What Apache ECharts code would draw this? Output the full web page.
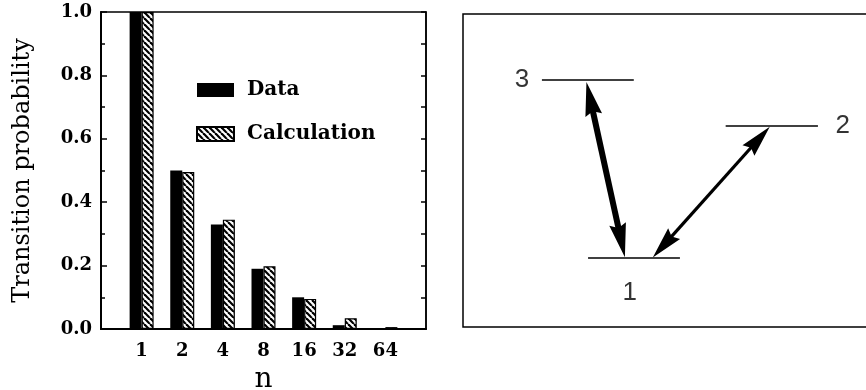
<!DOCTYPE html>
<html>
<head>
<meta charset="utf-8">
<script src="https://cdn.jsdelivr.net/npm/echarts@6/dist/echarts.min.js"></script>
<style>
  html, body { margin: 0; padding: 0; background: #fff; }
  #chart { width: 866px; height: 390px; }
</style>
</head>
<body>
<div id="chart"></div>
<script>
// ---- Data ----
const categories = ['1', '2', '4', '8', '16', '32', '64'];
const dataValues = [1.0, 0.50, 0.33, 0.19, 0.10, 0.012, 0.0];
const calcValues = [1.0, 0.495, 0.345, 0.198, 0.095, 0.034, 0.006];
const yTicks = [0.0, 0.2, 0.4, 0.6, 0.8, 1.0];

// Energy-level diagram (diagram units, x 0..106, y 0..100)
const levelNames = ['3', '2', '1'];
const levelSegments = [
  [[19.5, 78.9], [42.2, 78.9]],
  [[64.9, 64.2], [87.7, 64.2]],
  [[30.9, 22.0], [53.6, 22.0]]
];
const levelLabelPos = [[14.6, 78.9], [93.8, 64.2], [41.2, 11.0]];
const arrowCoords = [
  [30.5, 78.3, 40.0, 22.3],
  [46.9, 22.2, 75.8, 64.0]
];

// ---- Styles ----
const arrowStyles = [
  { width: 6, headLen: 34, headW: 17 },
  { width: 3.2, headLen: 32, headW: 16 }
];

function makeHatch() {
  const s = 6;
  const c = document.createElement('canvas');
  c.width = s; c.height = s;
  const g = c.getContext('2d');
  g.fillStyle = '#fff';
  g.fillRect(0, 0, s, s);
  g.strokeStyle = '#000';
  g.lineWidth = 2.2;
  for (let k = -1; k <= 1; k++) {
    g.beginPath();
    g.moveTo(k * s, 0);
    g.lineTo(k * s + s, s);
    g.stroke();
  }
  return c;
}
const hatch = { image: makeHatch(), repeat: 'repeat' };

const serif = 'DejaVu Serif';
const serifBold = { fontFamily: serif, fontWeight: 'bold', color: '#000' };

const chart = echarts.init(document.getElementById('chart'), null, { renderer: 'canvas' });

const option = {
  animation: false,
  backgroundColor: '#fff',
  grid: [
    { left: 101, top: 12, width: 325, height: 317, show: true, borderColor: '#000', borderWidth: 1.5,
      containLabel: false, outerBoundsMode: 'none' },
    { left: 463, top: 14, width: 429, height: 313, show: true, borderColor: '#000', borderWidth: 1.5,
      containLabel: false, outerBoundsMode: 'none' }
  ],
  legend: {
    orient: 'vertical',
    left: 196,
    top: 78,
    padding: 0,
    itemWidth: 37,
    itemHeight: 14,
    itemGap: 20,
    icon: 'rect',
    data: ['Data', 'Calculation'],
    textStyle: Object.assign({ fontSize: 20, lineHeight: 24, padding: [0, 0, 0, 8] }, serifBold)
  },
  xAxis: [
    {
      type: 'value', gridIndex: 0, min: 0, max: categories.length + 1, interval: 1,
      axisLine: { show: true, lineStyle: { color: '#000', width: 2 } },
      axisTick: { show: false },
      splitLine: { show: false },
      axisLabel: Object.assign({
        fontSize: 18, margin: 13,
        formatter: v => (v >= 1 && v <= categories.length) ? categories[v - 1] : ''
      }, serifBold),
      name: 'n', nameLocation: 'middle', nameGap: 37,
      nameTextStyle: { fontFamily: serif, fontSize: 28, color: '#000' }
    },
    {
      type: 'value', gridIndex: 1, min: 0, max: 106, show: false
    }
  ],
  yAxis: [
    {
      type: 'value', gridIndex: 0, min: 0, max: 1, interval: 0.2, position: 'left',
      axisLine: { show: true, lineStyle: { color: '#000', width: 2 } },
      axisTick: { show: true, inside: true, length: 6, lineStyle: { color: '#000', width: 1.5 } },
      minorTick: { show: true, splitNumber: 2, length: 4, lineStyle: { color: '#000', width: 1.5 } },
      splitLine: { show: false },
      axisLabel: Object.assign({ fontSize: 18, margin: 9, formatter: v => v.toFixed(1) }, serifBold),
      name: 'Transition probability', nameLocation: 'middle', nameGap: 66,
      nameTextStyle: { fontFamily: serif, fontSize: 24, color: '#000' }
    },
    {
      type: 'value', gridIndex: 0, min: 0, max: 1, interval: 0.2, position: 'right',
      axisLine: { show: true, lineStyle: { color: '#000', width: 1.5 } },
      axisTick: { show: true, inside: true, length: 5, lineStyle: { color: '#000', width: 1.5 } },
      minorTick: { show: true, splitNumber: 2, length: 5, lineStyle: { color: '#000', width: 1.5 } },
      splitLine: { show: false },
      axisLabel: { show: false }
    },
    {
      type: 'value', gridIndex: 1, min: 0, max: 100, show: false
    }
  ],
  series: [
    {
      name: 'Data', type: 'bar', xAxisIndex: 0, yAxisIndex: 0,
      barWidth: 12, barGap: '0%',
      itemStyle: { color: '#000' },
      data: dataValues.map((v, i) => [i + 1, v])
    },
    {
      name: 'Calculation', type: 'bar', xAxisIndex: 0, yAxisIndex: 0,
      barWidth: 12, barGap: '0%',
      itemStyle: { color: hatch, borderColor: '#000', borderWidth: 1.2 },
      data: calcValues.map((v, i) => [i + 1, v])
    },
    {
      type: 'lines', coordinateSystem: 'cartesian2d', xAxisIndex: 1, yAxisIndex: 2,
      silent: true,
      lineStyle: { color: '#000', width: 1.5, opacity: 1 },
      data: levelSegments.map(seg => ({ coords: seg }))
    },
    {
      type: 'scatter', xAxisIndex: 1, yAxisIndex: 2, symbolSize: 0, silent: true,
      label: {
        show: true, position: 'inside', formatter: p => p.name,
        fontFamily: 'Liberation Sans', fontSize: 26, fontWeight: 'lighter', color: '#000'
      },
      data: levelLabelPos.map((p, i) => ({ name: levelNames[i], value: p }))
    },
    {
      type: 'custom', xAxisIndex: 1, yAxisIndex: 2, silent: true,
      data: arrowCoords,
      renderItem: function (params, api) {
        const st = arrowStyles[params.dataIndex];
        const a = api.coord([api.value(0), api.value(1)]);
        const b = api.coord([api.value(2), api.value(3)]);
        const dx = b[0] - a[0], dy = b[1] - a[1];
        const L = Math.sqrt(dx * dx + dy * dy);
        const ux = dx / L, uy = dy / L;
        const nx = -uy, ny = ux;
        const h = st.headLen, w = st.headW / 2;
        const headA = [a,
          [a[0] + ux * h + nx * w, a[1] + uy * h + ny * w],
          [a[0] + ux * h * 0.88, a[1] + uy * h * 0.88],
          [a[0] + ux * h - nx * w, a[1] + uy * h - ny * w]];
        const headB = [b,
          [b[0] - ux * h + nx * w, b[1] - uy * h + ny * w],
          [b[0] - ux * h * 0.88, b[1] - uy * h * 0.88],
          [b[0] - ux * h - nx * w, b[1] - uy * h - ny * w]];
        return {
          type: 'group',
          children: [
            { type: 'line', shape: { x1: a[0] + ux * h * 0.8, y1: a[1] + uy * h * 0.8, x2: b[0] - ux * h * 0.8, y2: b[1] - uy * h * 0.8 },
              style: { stroke: '#000', lineWidth: st.width } },
            { type: 'polygon', shape: { points: headA }, style: { fill: '#000' } },
            { type: 'polygon', shape: { points: headB }, style: { fill: '#000' } }
          ]
        };
      }
    }
  ]
};
chart.setOption(option);
</script>
</body>
</html>
